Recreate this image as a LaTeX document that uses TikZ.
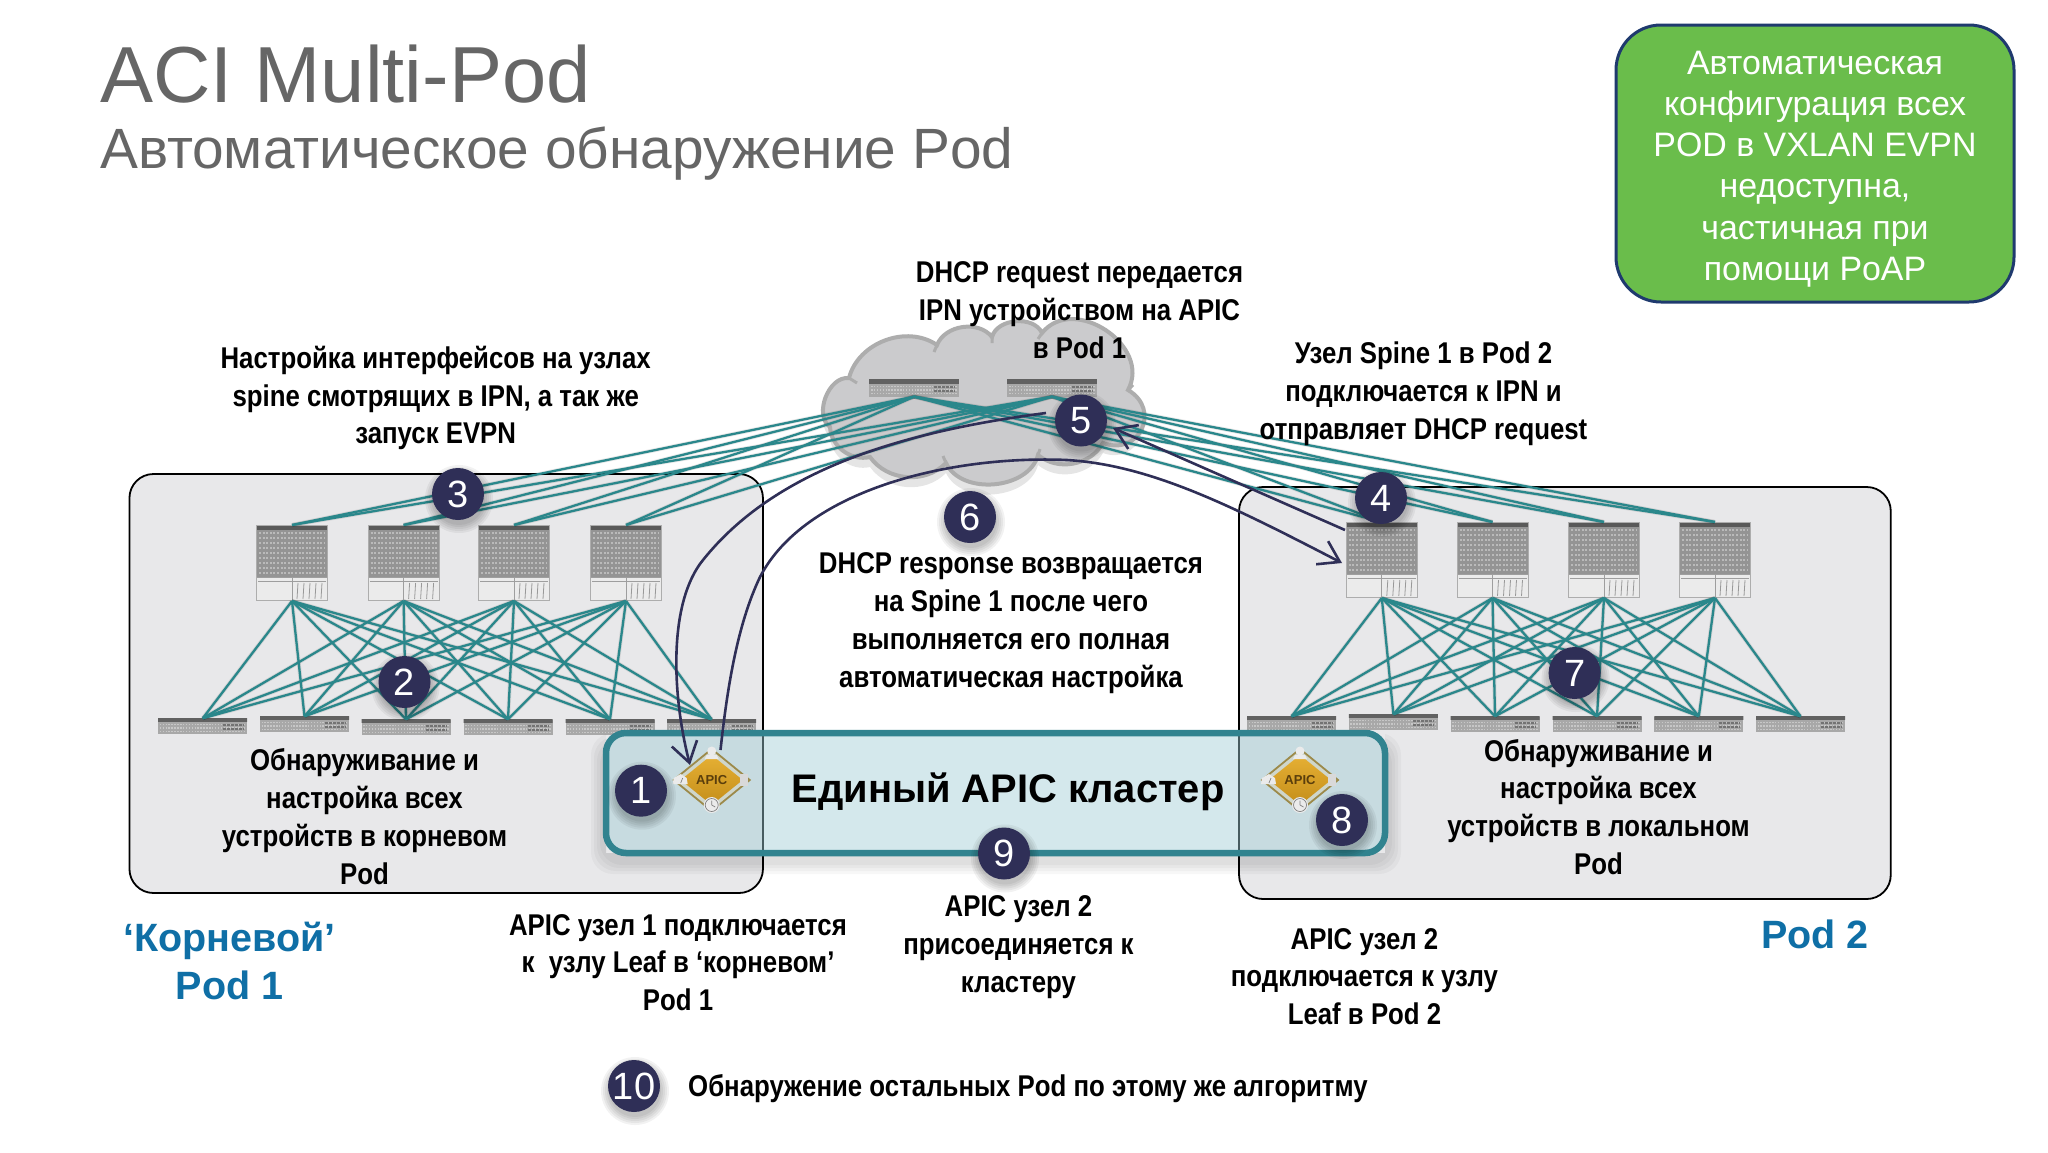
\documentclass[tikz,border=0pt]{standalone}
\usepackage{fontspec}
\setmainfont{Liberation Sans}
\newfontfamily\nb[FakeStretch=0.86]{Liberation Sans}
\usetikzlibrary{arrows.meta,shapes.geometric,calc}
\definecolor{teal1}{HTML}{2A878B}
\definecolor{navy1}{HTML}{2F2F57}
\definecolor{noteline}{HTML}{1F3A6E}
\definecolor{notefill}{HTML}{6ABD4B}
\definecolor{clusterline}{HTML}{31838F}
\definecolor{clusterfill}{HTML}{A0CDD6}
\definecolor{titlegray}{HTML}{666666}
\definecolor{blue1}{HTML}{0F6FA6}
\definecolor{podfill}{HTML}{E8E8EA}
\definecolor{cloudfill}{HTML}{CBCBCD}
\definecolor{cloudline}{HTML}{ADADAD}
\definecolor{apicedge}{HTML}{9C8A4A}
\definecolor{apicpale}{HTML}{CFD6CB}
\definecolor{apictext}{HTML}{5A3E0C}
\definecolor{goldtop}{HTML}{E6B034}
\definecolor{goldbot}{HTML}{C48E1A}
\tikzset{
  x=1pt,y=-1pt,
  pod/.style={draw=black,line width=1.8pt,fill=podfill,rounded corners=24pt},
  link/.style={draw=teal1,line width=2.3pt},
  linkshadow/.style={draw=black,opacity=.09,line width=4pt,shift={(2pt,-3pt)}},
  flow/.style={draw=navy1,line width=2.6pt},
  flowtip/.style={flow,-{Straight Barb[length=20pt,width=26pt,line width=2.6pt]}},
  lbl/.style={font=\nb\bfseries\fontsize{30}{37.8}\selectfont,align=center,text=black,inner sep=0},
  podname/.style={font=\bfseries\fontsize{39.5}{48}\selectfont,align=center,text=blue1,inner sep=0},
  badge/.style={circle,fill=navy1,text=white,minimum size=52pt,inner sep=0,font=\fontsize{38}{38}\selectfont},
  spine/.style={rectangle,draw=black!32,line width=1pt,fill=black!42,minimum width=71pt,minimum height=75pt,inner sep=0,
    path picture={
      \begin{scope}[shift={(path picture bounding box.center)}]
        \fill[black!65] (-36,-38) rectangle (36,-33);
        \foreach \r in {-30,-25,...,10}
          \draw[black!27,line width=2.2pt,dash pattern=on 2pt off 1.6pt] (-33,\r) -- (33,\r);
        \fill[black!8] (-36,14) rectangle (36,38);
        \draw[black!38,line width=1pt] (-36,14) -- (36,14) (0,14) -- (0,38) (-34,18) -- (34,18);
        \foreach \r in {6,12,18,24,30}
          \draw[black!40,line width=.8pt] (\r,20) -- (\r-1,36);
      \end{scope}}},
  leaf/.style={rectangle,fill=black!34,minimum width=89pt,minimum height=15pt,inner sep=0,
    path picture={
      \begin{scope}[shift={(path picture bounding box.center)}]
        \fill[black!62] (-45,-9) rectangle (45,-4);
        \foreach \r in {-1.5,2,5.5}
          \draw[black!22,line width=1.4pt,dash pattern=on 1.5pt off 1.4pt] (-43,\r) -- (43,\r);
        \foreach \r in {-1,3}
          \draw[black!55,line width=2pt,dash pattern=on 3pt off 1pt] (20,\r) -- (41,\r);
      \end{scope}}},
  ipn/.style={leaf,minimum width=90pt,minimum height=17pt},
  pics/apic/.style={code={
    \coordinate (-c) at (0,0);
    \fill[apicpale] (0,-31) -- (38,0) -- (0,31) -- (-38,0) -- cycle;
    \draw[draw=apicedge,line width=1.8pt] (0,-31) -- (38,0) -- (0,31) -- (-38,0) -- cycle;
    \shade[top color=goldtop,bottom color=goldbot,rounded corners=3pt] (0,-25) -- (31,0) -- (0,25) -- (-31,0) -- cycle;
    \node[font=\bfseries\fontsize{13}{13}\selectfont,text=apictext,inner sep=0] at (0,0) {APIC};
    \fill[white!92!black] (0,-29) circle[radius=4.5];
    \fill[white!92!black] (-7,-21) -- (7,-21) -- (5,-25) -- (-5,-25) -- cycle;
    \fill[white!92!black] (-39,4) -- (-38,-2) -- (-31,-6) -- (-25,-2) -- (-24,4) -- cycle;
    \draw[black!50,line width=.7pt] (-31,3) -- (-29,-2);
    \fill[white!85!black] (28,-6) rectangle (36,6);
    \fill[white!92!black] (0,25) circle[radius=8];
    \draw[black!50,line width=.7pt] (0,25) circle[radius=6.5] (0,25) -- (0,20.5) (0,25) -- (3.5,27);
  }},
}
\newcommand{\softshadow}[3]{% x y r
  \foreach \d in {0,2,4,6,8} \fill[black,opacity=.05] (#1+1,#2+5) circle[radius=#3+8-\d];
}
\begin{document}
\begin{tikzpicture}
\useasboundingbox[fill=white] (0,0) rectangle (2048,1152);

% title
\node[anchor=base west,inner sep=0,text=titlegray,font=\fontsize{79.5}{80}\selectfont] (t1) at (100,102) {ACI Multi-Pod};
\node[anchor=base west,inner sep=0,text=titlegray,font=\fontsize{56.8}{57}\selectfont] (t2) at (100,168) {Автоматическое обнаружение Pod};

% green note
\node[draw=noteline,fill=notefill,line width=3pt,rounded corners=45pt,minimum width=398pt,minimum height=277pt,inner sep=0] (note) at (1815,163.5) {};
\node[text=white,align=center,inner sep=0,font=\fontsize{33.9}{41.2}\selectfont] (notetext) at (1815,169)
  {Автоматическая\\конфигурация всех\\POD в VXLAN EVPN\\недоступна,\\частичная при\\помощи PoAP};

% pods
\node[pod,minimum width=633.5pt,minimum height=419pt,inner sep=0] (pod1) at (446.2,683.5) {};
\node[pod,minimum width=651.7pt,minimum height=412pt,inner sep=0] (pod2) at (1564.9,693) {};

% cloud
\fill[black,opacity=.10] (830,437) to[bend left=70] (849,388) to[bend left=55] (937,355) to[bend left=60] (992,347) to[bend left=70] (1042,343)
  to[bend left=85,looseness=1.25] (1128,400) to[bend left=85,looseness=1.6] (1103,453) to[bend left=50] (1038,465) to[bend left=70] (946,473) to[bend left=50] (870,467) to[bend left=50] cycle;
\draw[draw=cloudline,fill=cloudfill,line width=4pt] (830,427) coordinate (cj)
  to[bend left=75] (849,378) coordinate (ca)
  to[bend left=55] (937,345) coordinate (cb)
  to[bend left=60] (992,337) coordinate (cc)
  to[bend left=70] (1042,333) coordinate (cd)
  to[bend left=85,looseness=1.25] (1128,390) coordinate (ce)
  to[bend left=85,looseness=1.7] (1103,443) coordinate (cf)
  to[bend left=50] (1038,455) coordinate (cg)
  to[bend left=70] (946,463) coordinate (ch)
  to[bend left=50] (870,457) coordinate (ci)
  to[bend left=50] cycle;
\draw[cloudline,line width=3pt] (ca) -- +(8,5) (cb) -- +(-3,7) (cc) -- +(0,6) (cd) -- +(-4,6) (ce) -- +(5,-5) (cg) -- +(2,-6) (ch) -- +(-3,-7);

% nodes
\node[ipn] (ipnA) at (914,388) {};
\node[ipn] (ipnB) at (1052,388) {};
\foreach \n/\x in {1/292,2/403.6,3/514,4/626} \node[spine] (as\n) at (\x,563) {};
\foreach \n/\x in {1/1381.8,2/1492.5,3/1604,4/1715} \node[spine] (bs\n) at (\x,560) {};
\foreach \n/\x/\y in {1/202.7/726,2/304.5/724,3/406/727,4/508/727,5/610/727,6/711.6/727} \node[leaf] (al\n) at (\x,\y) {};
\foreach \n/\x/\y in {1/1291.6/724,2/1393.4/722,3/1495/724,4/1597/724,5/1698.8/724,6/1800.5/724} \node[leaf] (bl\n) at (\x,\y) {};

% links
\foreach \s in {as1,as2,as3,as4,bs1,bs2,bs3,bs4} \foreach \i in {ipnA,ipnB} \path[linkshadow] (\s.north) -- (\i.south);
\foreach \s in {as1,as2,as3,as4,bs1,bs2,bs3,bs4} \foreach \i in {ipnA,ipnB} \path[link] (\s.north) -- (\i.south);
\foreach \p in {a,b} \foreach \s in {1,2,3,4} \foreach \l in {1,...,6} \path[linkshadow] (\p s\s.south) -- (\p l\l.north);
\foreach \p in {a,b} \foreach \s in {1,2,3,4} \foreach \l in {1,...,6} \path[link] (\p s\s.south) -- (\p l\l.north);

% cluster
\begin{scope}
  \clip (0,0) -- (2048,0) -- (2048,1152) -- (0,1152) -- cycle (606,733) -- (606,853) -- (1385,853) -- (1385,733) -- cycle;
  \foreach \d in {0,3,6,9} \fill[black,opacity=.03,rounded corners=22pt] (600-\d,742-\d) rectangle (1392+\d,865+\d);
\end{scope}
\node[draw=clusterline,line width=6.5pt,fill=clusterfill,fill opacity=.45,draw opacity=1,rounded corners=20pt,minimum width=779pt,minimum height=120pt,inner sep=0] (cluster) at (995.5,793) {};
\node[font=\bfseries\fontsize{39.9}{39.9}\selectfont,inner sep=0] (ctext) at (1008,792) {Единый APIC кластер};
\pic (apicA) at (711.7,780) {apic};
\pic (apicB) at (1300,780) {apic};

% texts
\node[lbl] (x1) at (1079.5,310) {DHCP request передается\\IPN устройством на APIC\\в Pod 1};
\node[lbl] (x2) at (435.7,398) {Настройка интерфейсов на узлах\\spine смотрящих в IPN, а так же\\запуск EVPN};
\node[lbl] (x3) at (1423.5,393.5) {Узел Spine 1 в Pod 2\\подключается к IPN и\\отправляет DHCP request};
\node[lbl] (x4) at (1011,623) {DHCP response возвращается\\на Spine 1 после чего\\выполняется его полная\\автоматическая настройка};
\node[lbl] (x5) at (364.5,816.5) {Обнаруживание и\\настройка всех\\устройств в корневом\\Pod};
\node[lbl] (x6) at (1598.5,807) {Обнаруживание и\\настройка всех\\устройств в локальном\\Pod};
\node[lbl] (x7) at (678,962.5) {APIC узел 1 подключается\\к\ \ узлу Leaf в ‘корневом’\\Pod 1};
\node[lbl] (x8) at (1018.5,947) {APIC узел 2\\присоединяется к\\кластеру};
\node[lbl] (x9) at (1364.5,976.5) {APIC узел 2\\подключается к узлу\\Leaf в Pod 2};
\node[lbl,anchor=west] (x10) at (688,1089) {Обнаружение остальных Pod по этому же алгоритму};
\node[podname] (n1) at (229.5,961) {‘Корневой’\\Pod 1};
\node[podname] (n2) at (1815,934) {Pod 2};

% flows
\coordinate (fa0) at (1046,413);
\coordinate (fa1) at (703,560);
\coordinate (fa2) at (690,765);
\draw[flowtip] (fa0) .. controls (900,432) and (775,470) .. (fa1) .. controls (668,603) and (672,695) .. (fa2);
\coordinate (fb0) at (720.5,750);
\coordinate (fb1) at (760,577);
\coordinate (fb2) at (1067,460);
\coordinate (fb3) at (1342,563);
\draw[flowtip] (fb0) .. controls (727,690) and (737,625) .. (fb1) .. controls (805,490) and (950,455) .. (fb2) .. controls (1150,465) and (1230,505) .. (fb3);
\coordinate (fc0) at (1345,530);
\coordinate (fc1) at (1113,428);
\draw[flowtip] (fc0) -- (fc1);

% badges
\foreach \n/\x/\y/\t in {1/641/790.7/1,2/404.5/682/2,3/458/494/3,4/1381/498/4,5/1081/420.5/5,6/970/517/6,7/1574.6/673/7,8/1342/820/8,9/1004/853.5/9,10/634/1086/10}
  {\softshadow{\x}{\y}{26}\node[badge] (b\n) at (\x,\y) {\t};}
\end{tikzpicture}
\end{document}
